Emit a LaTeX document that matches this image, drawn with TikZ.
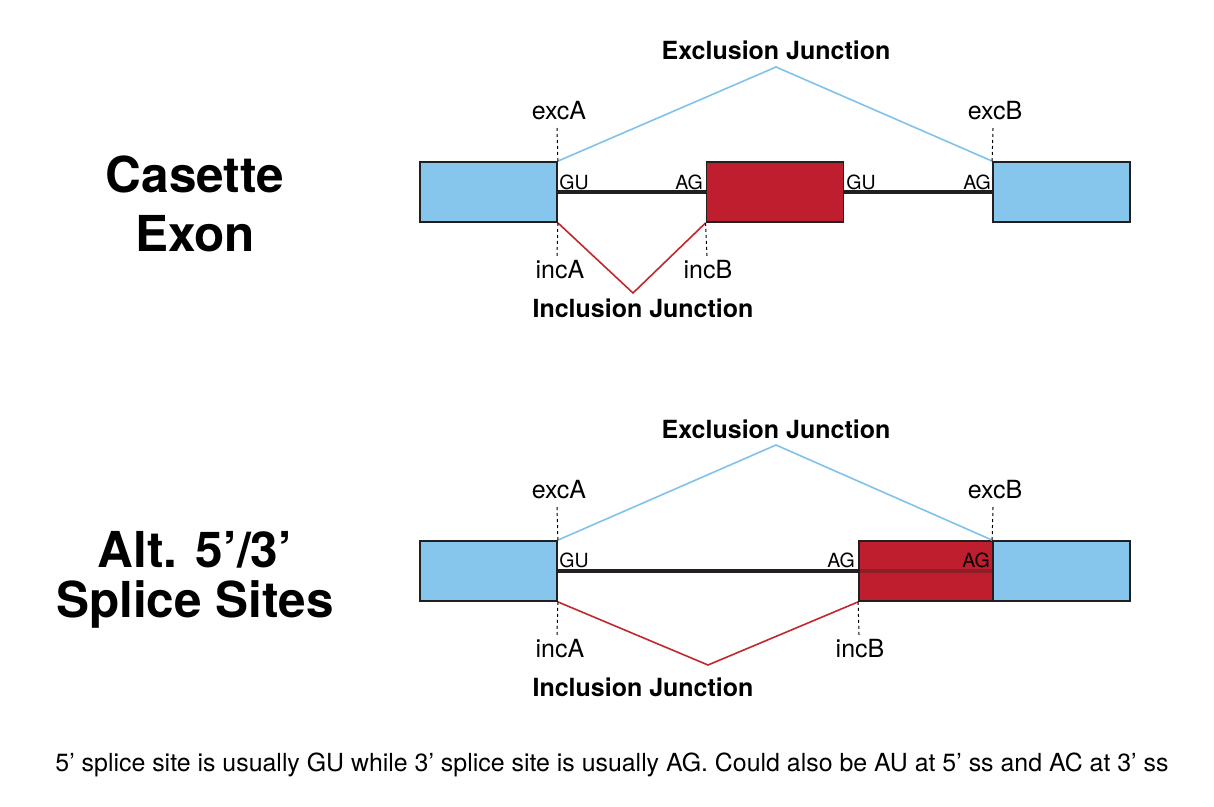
\documentclass[tikz,border=0pt]{standalone}
\usepackage{fontspec}
\setmainfont{TeX Gyre Heros}
\definecolor{exblue}{HTML}{86C6EC}
\definecolor{exred}{HTML}{BE1E2D}
\definecolor{jblue}{HTML}{7FC2EA}
\definecolor{jred}{HTML}{C1272D}
\definecolor{edge}{HTML}{231F20}
\tikzset{
  exonbox/.style={draw=edge, line width=1.8pt, inner sep=0pt, minimum width=137pt, minimum height=60pt},
  blueexon/.style={exonbox, fill=exblue},
  redexon/.style={exonbox, fill=exred},
  intron/.style={draw=edge, line width=3.5pt},
  exjunc/.style={draw=jblue, line width=1.6pt},
  injunc/.style={draw=jred, line width=1.6pt},
  guide/.style={draw=black, line width=1pt, dash pattern=on 3pt off 3pt},
  sitelbl/.style={font=\fontsize{19.5}{22}\selectfont, inner sep=0pt, anchor=base},
  junclbl/.style={font=\fontsize{25}{28}\selectfont\bfseries, inner sep=0pt, anchor=base},
  poslbl/.style={font=\fontsize{25}{28}\selectfont, inner sep=0pt, anchor=base},
  titlelbl/.style={font=\fontsize{49.5}{56}\selectfont\bfseries, inner sep=0pt, anchor=base},
  footlbl/.style={font=\fontsize{24.9}{28}\selectfont, inner sep=0pt, anchor=base}
}
\begin{document}
\begin{tikzpicture}[x=1pt,y=-1pt]
\useasboundingbox (0,0) rectangle (1214,806);

% ---------- Top: Casette Exon ----------
\node[titlelbl] (t1a) at (195,192) {Casette};
\node[titlelbl] (t1b) at (195,251) {Exon};

\node[blueexon] (L1) at (488.5,192) {};
\node[redexon] (E1) at (775,192) {};
\node[blueexon] (R1) at (1061.5,192) {};
\draw[intron] (L1.east) -- (E1.west);
\draw[intron] (E1.east) -- (R1.west);

\coordinate (X1) at (776,67);
\coordinate (I1) at (633,293);
\draw[exjunc] (L1.north east) -- (X1) -- (R1.north west);
\draw[injunc] (L1.south east) -- (I1) -- (E1.south west);

\node[junclbl] (xl1) at (776,59) {Exclusion Junction};
\node[junclbl] (il1) at (643,317) {Inclusion Junction};

\node[poslbl] (excA1) at (559,119) {excA};
\node[poslbl] (excB1) at (995,119) {excB};
\node[poslbl] (incA1) at (560,278) {incA};
\node[poslbl] (incB1) at (708,278) {incB};
\coordinate (dA1) at (557,128);
\coordinate (dB1) at (993,128);
\coordinate (dC1) at (557,256);
\coordinate (dD1) at (707,256);
\draw[guide] (dA1) -- (L1.north east);
\draw[guide] (dB1) -- (R1.north west);
\draw[guide] (L1.south east) -- (dC1);
\draw[guide] (E1.south west) -- (dD1);

\node[sitelbl] (gu1) at (574,189) {GU};
\node[sitelbl] (ag1) at (689,189) {AG};
\node[sitelbl] (gu2) at (861,189) {GU};
\node[sitelbl] (ag2) at (977,189) {AG};

% ---------- Bottom: Alt 5'/3' ----------
\node[titlelbl] (t2a) at (195,567) {Alt. 5’/3’};
\node[titlelbl] (t2b) at (195,617) {Splice Sites};

\node[blueexon] (L2) at (488.5,571) {};
\node[blueexon] (R2) at (1061.5,571) {};
\draw[intron] (L2.east) -- (R2.west);
\node[exonbox, fill=exred, minimum width=134pt] (E2) at (926,571) {};
\draw[intron, draw opacity=0.3] (E2.west) -- (R2.west);

\coordinate (X2) at (776,445);
\coordinate (I2) at (708,665);
\draw[exjunc] (L2.north east) -- (X2) -- (R2.north west);
\draw[injunc] (L2.south east) -- (I2) -- (E2.south west);

\node[junclbl] (xl2) at (776,438) {Exclusion Junction};
\node[junclbl] (il2) at (643,696) {Inclusion Junction};

\node[poslbl] (excA2) at (559,498) {excA};
\node[poslbl] (excB2) at (995,498) {excB};
\node[poslbl] (incA2) at (560,657) {incA};
\node[poslbl] (incB2) at (860,657) {incB};
\coordinate (dA2) at (557,507);
\coordinate (dB2) at (993,507);
\coordinate (dC2) at (557,635);
\coordinate (dD2) at (859,635);
\draw[guide] (dA2) -- (L2.north east);
\draw[guide] (dB2) -- (R2.north west);
\draw[guide] (L2.south east) -- (dC2);
\draw[guide] (E2.south west) -- (dD2);

\node[sitelbl] (gu3) at (574,567) {GU};
\node[sitelbl] (ag3) at (841,567) {AG};
\node[sitelbl] (ag4) at (976,567) {AG};

% ---------- Footer ----------
\node[footlbl] (foot) at (612,771) {5’ splice site is usually GU while 3’ splice site is usually AG. Could also be AU at 5’ ss and AC at 3’ ss};
\end{tikzpicture}
\end{document}
